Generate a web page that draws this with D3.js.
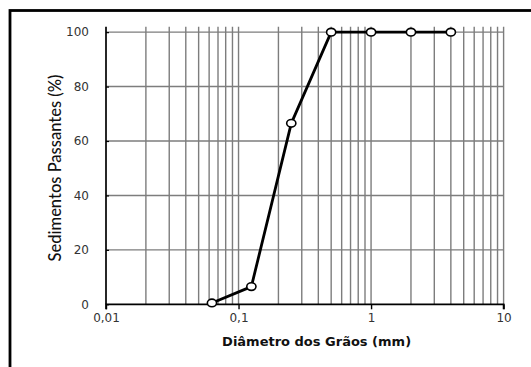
<!DOCTYPE html>
<html>
<head>
<meta charset="utf-8">
<script src="https://cdn.jsdelivr.net/npm/d3@7"></script>
<style>
  html, body { margin: 0; padding: 0; background: #fff; }
  svg { display: block; }
</style>
</head>
<body>
<svg id="chart" width="531" height="367"></svg>
<script>
// Grain-size distribution (curva granulométrica)
const diameters = [0.063, 0.125, 0.25, 0.5, 1, 2, 4];      // mm
const passing   = [0.5, 6.5, 66.5, 100, 100, 100, 100];     // % passing
const xTickValues = [0.01, 0.1, 1, 10];
const xTickLabels = ["0,01", "0,1", "1", "10"];
const yTickValues = [0, 20, 40, 60, 80, 100];
const xTitle = "Diâmetro dos Grãos (mm)";
const yTitle = "Sedimentos Passantes (%)";

const svg = d3.select("#chart");
const W = 531, H = 367;
const plot = { left: 106, right: 503.6, top: 26.7, bottom: 304.3 };

svg.append("rect").attr("width", W).attr("height", H).attr("fill", "#fff");

// outer frame (continues past the right and bottom edges)
svg.append("rect")
  .attr("x", 10).attr("y", 10.5)
  .attr("width", W + 20).attr("height", H + 20)
  .attr("fill", "none").attr("stroke", "#000").attr("stroke-width", 2.8);

const x = d3.scaleLog().domain([0.01, 10]).range([plot.left, plot.right]);
const y = d3.scaleLinear().domain([0, 102]).range([plot.bottom, plot.top]);

// vertical grid: every 1..9 × decade
const minor = [];
for (const dec of [0.01, 0.1, 1]) for (let k = 1; k <= 9; k++) minor.push(+(dec * k).toPrecision(3));
minor.push(10);
const grid = svg.append("g").attr("stroke", "#7d7d7d").attr("stroke-width", 1.4);
grid.selectAll("line.v").data(minor.filter(v => v > 0.01)).join("line")
  .attr("class", "v")
  .attr("x1", d => x(d)).attr("x2", d => x(d))
  .attr("y1", y(102)).attr("y2", y(0));
grid.selectAll("line.h").data(yTickValues.filter(v => v > 0)).join("line")
  .attr("class", "h")
  .attr("x1", plot.left).attr("x2", plot.right)
  .attr("y1", d => y(d)).attr("y2", d => y(d));

// axes
const xAxis = d3.axisBottom(x).tickValues(xTickValues).tickSize(5).tickFormat((d, i) => xTickLabels[i]);
const gx = svg.append("g").attr("transform", `translate(0,${plot.bottom})`).call(xAxis);
gx.select(".domain").attr("stroke", "#000").attr("stroke-width", 1.7).attr("d", `M${plot.left},5V0H${plot.right}V5`);
gx.selectAll(".tick line").attr("stroke", "#000").attr("stroke-width", 1.4);
gx.selectAll(".tick text")
  .attr("y", 18).attr("dy", 0)
  .attr("fill", "#333")
  .style("font-family", "'DejaVu Sans', Verdana, sans-serif").style("font-size", "12px");

const yAxis = d3.axisLeft(y).tickValues(yTickValues).tickSize(-3).tickPadding(17);
const gy = svg.append("g").attr("transform", `translate(${plot.left},0)`).call(yAxis);
gy.select(".domain").attr("stroke", "#000").attr("stroke-width", 1.7).attr("d", `M0,${plot.top}V${plot.bottom}`);
gy.selectAll(".tick line").attr("stroke", "#000").attr("stroke-width", 1.2);
gy.selectAll(".tick text")
  .attr("fill", "#333")
  .style("font-family", "'DejaVu Sans', Verdana, sans-serif").style("font-size", "12px");

// axis titles
svg.append("text")
  .attr("x", 316.6).attr("y", 345.5)
  .attr("text-anchor", "middle")
  .attr("fill", "#111")
  .style("font-family", "'DejaVu Sans', Verdana, sans-serif").style("font-weight", "bold").style("font-size", "13px")
  .text(xTitle);

svg.append("text")
  .attr("transform", "translate(60.5,168) rotate(-90)")
  .attr("text-anchor", "middle")
  .attr("fill", "#111")
  .style("font-family", "Lato, 'Open Sans', sans-serif").style("font-size", "16.5px").style("font-weight", "500")
  .text(yTitle);

// curve
const pts = diameters.map((d, i) => [d, passing[i]]);
svg.append("path")
  .datum(pts)
  .attr("fill", "none").attr("stroke", "#000").attr("stroke-width", 2.8).attr("stroke-linejoin", "round")
  .attr("d", d3.line().x(d => x(d[0])).y(d => y(d[1])));

svg.selectAll("ellipse.pt").data(pts).join("ellipse")
  .attr("class", "pt")
  .attr("cx", d => x(d[0])).attr("cy", d => y(d[1]))
  .attr("rx", 4.6).attr("ry", 3.8)
  .attr("fill", "#fff").attr("stroke", "#000").attr("stroke-width", 1.6);
</script>
</body>
</html>
